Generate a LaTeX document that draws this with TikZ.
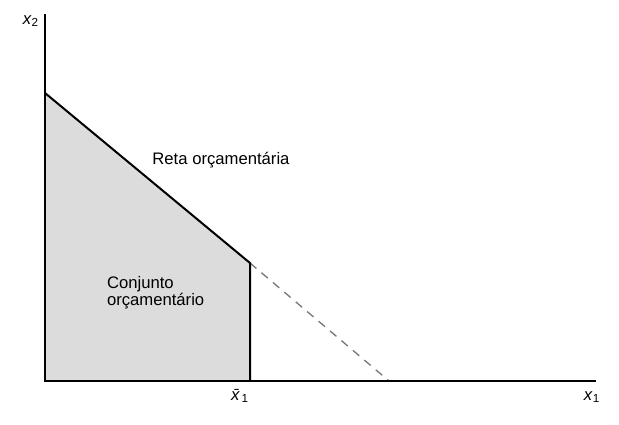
\documentclass[tikz,border=0pt]{standalone}
\usepackage{fontspec}
\setmainfont{Liberation Sans}
\usepackage{xcolor}
\usetikzlibrary{positioning, calc}
\definecolor{setgray}{RGB}{220, 220, 220}
\definecolor{dashgray}{RGB}{120, 120, 120}
\tikzstyle{axis} = [line width=1.2pt, black]
\tikzstyle{budget} = [line width=1.2pt, black, line join=miter]
\tikzstyle{extension} = [line width=0.8pt, dashgray, dash pattern=on 5pt off 4pt]
\tikzstyle{label} = [font=\normalsize, inner sep=1pt]

\begin{document}
\begin{tikzpicture}[x=0.6pt, y=-0.6pt]
    % Frame
    \path[use as bounding box] (0,0) rectangle (619,425);

    % Points
    \coordinate (origin) at (45, 381);
    \coordinate (ytop) at (45, 14);
    \coordinate (xend) at (596, 381);
    \coordinate (yint) at (45, 93);
    \coordinate (kink) at (250, 263);
    \coordinate (kinkbase) at (250, 381);
    \coordinate (xint) at (389, 381);

    % Budget set
    \fill[setgray] (yint) -- (kink) -- (kinkbase) -- (origin) -- cycle;

    % Dashed continuation
    \draw[extension] (kink) -- (xint);

    % Budget line
    \draw[budget] (yint) -- (kink) -- (kinkbase);

    % Axes
    \draw[axis] (ytop) -- (origin) -- (xend);

    % Labels
    \node[label] (x2lab) at (31, 21) {\textit{x}\textsubscript{2}};
    \node[label] (x1lab) at (592, 397) {\textit{x}\textsubscript{1}};
    \node[label] (xbarlab) at (240, 396) {\textit{\=x}\textsubscript{1}};
    \node[label] (linelab) at (221, 160) {Reta orçamentária};
    \node[label, align=left, anchor=west] (setlab) at (105, 293) {Conjunto\\[-2pt]orçamentário};
\end{tikzpicture}
\end{document}
